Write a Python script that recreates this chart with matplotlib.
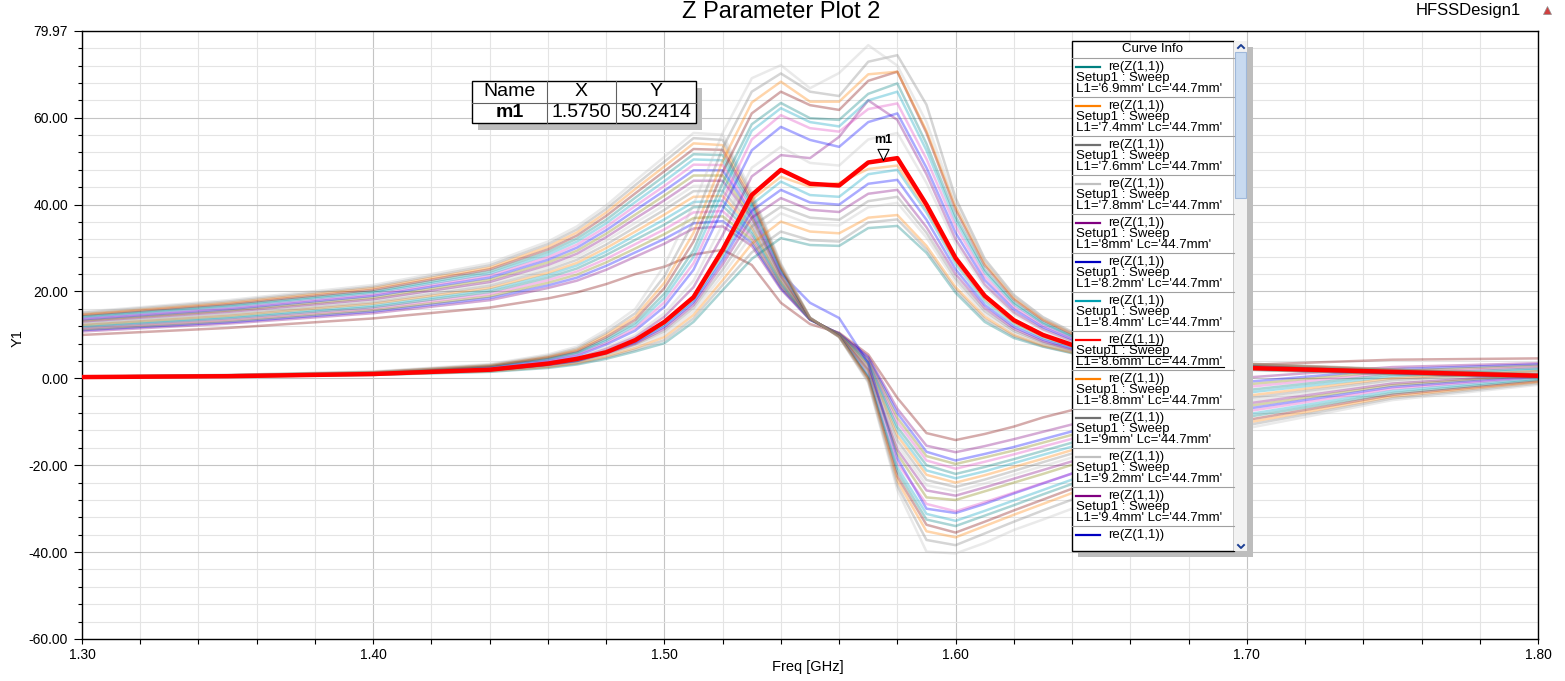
import matplotlib.pyplot as plt
import numpy as np
from matplotlib.patches import Rectangle

plt.rcParams['font.family'] = ['Liberation Sans', 'DejaVu Sans']

W, H = 1565, 681

# sweep points [GHz]
freq = [1.30, 1.35, 1.40, 1.44, 1.46, 1.47, 1.48, 1.49, 1.50, 1.51, 1.52, 1.53, 1.54, 1.55,
        1.56, 1.57, 1.58, 1.59, 1.60, 1.61, 1.62, 1.63, 1.64, 1.66, 1.70, 1.75, 1.80]

# resonance family (lowest peak first), index 9 = selected trace L1='8.6mm'
re_curves = [
    [0.2, 0.4, 0.8, 1.5, 2.4, 3.2, 4.5, 6.2, 8.1, 13.0, 20.3, 27.5, 32.3, 30.7, 30.5, 34.6, 35.1, 28.9, 19.7, 13.0, 9.3, 7.3, 5.8, 4.0, 2.0, 1.0, 0.2],
    [0.2, 0.4, 0.8, 1.6, 2.6, 3.4, 4.8, 6.6, 8.8, 13.8, 21.5, 29.0, 33.8, 31.8, 31.5, 35.9, 36.6, 29.7, 20.4, 13.6, 9.7, 7.4, 5.9, 4.1, 2.0, 1.0, 0.2],
    [0.2, 0.4, 0.9, 1.7, 2.7, 3.6, 5.1, 7.0, 9.5, 14.6, 22.6, 31.0, 36.1, 33.8, 33.4, 37.0, 37.6, 30.5, 21.0, 14.2, 10.0, 7.6, 6.0, 4.2, 2.1, 1.1, 0.3],
    [0.2, 0.4, 0.9, 1.8, 2.9, 3.8, 5.4, 7.4, 10.1, 15.4, 23.8, 33.0, 38.0, 35.5, 35.2, 39.4, 40.4, 32.4, 22.2, 14.9, 10.5, 7.9, 6.2, 4.3, 2.1, 1.1, 0.3],
    [0.3, 0.5, 1.0, 1.8, 3.0, 3.9, 5.6, 7.8, 10.8, 16.2, 25.0, 35.0, 39.5, 37.0, 36.5, 40.8, 41.8, 33.5, 23.0, 15.5, 10.9, 8.2, 6.4, 4.4, 2.2, 1.2, 0.3],
    [0.3, 0.5, 1.0, 1.9, 3.1, 4.0, 5.8, 8.0, 11.4, 16.9, 26.2, 37.0, 41.5, 38.8, 38.3, 42.5, 43.4, 34.8, 24.0, 16.2, 11.4, 8.5, 6.6, 4.5, 2.2, 1.2, 0.4],
    [0.3, 0.5, 1.0, 1.9, 3.2, 4.1, 6.0, 8.3, 11.9, 17.5, 27.2, 38.6, 43.4, 40.5, 40.0, 44.8, 45.7, 36.5, 25.1, 16.9, 11.9, 8.9, 6.9, 4.7, 2.3, 1.3, 0.4],
    [0.3, 0.5, 1.0, 2.0, 3.2, 4.1, 6.1, 8.5, 12.3, 18.0, 28.0, 40.0, 45.3, 42.2, 41.8, 47.0, 48.0, 38.2, 26.3, 17.7, 12.5, 9.3, 7.2, 4.9, 2.3, 1.3, 0.4],
    [0.3, 0.5, 1.0, 2.0, 3.3, 4.2, 6.3, 8.7, 12.7, 18.4, 28.8, 41.2, 46.4, 44.1, 45.0, 48.2, 49.0, 39.0, 27.0, 18.3, 12.9, 9.6, 7.4, 5.0, 2.4, 1.4, 0.5],
    [0.3, 0.5, 1.0, 2.0, 3.4, 4.5, 6.0, 8.8, 13.0, 18.7, 29.6, 42.2, 48.0, 44.8, 44.4, 49.7, 50.7, 40.0, 27.7, 19.0, 13.4, 10.0, 7.7, 5.2, 2.4, 1.5, 0.6],
    [0.3, 0.6, 1.1, 2.2, 3.6, 4.6, 6.8, 9.5, 14.2, 21.0, 33.0, 46.5, 51.4, 50.7, 55.6, 64.0, 59.5, 47.0, 32.0, 21.6, 15.2, 11.3, 8.6, 5.8, 2.7, 1.6, 0.6],
    [0.3, 0.6, 1.1, 2.3, 3.7, 4.8, 7.1, 10.0, 15.0, 22.5, 35.5, 48.5, 53.3, 49.6, 49.0, 55.0, 56.5, 45.0, 31.0, 21.0, 14.8, 11.0, 8.4, 5.7, 2.7, 1.6, 0.7],
    [0.3, 0.6, 1.2, 2.5, 4.0, 5.2, 7.8, 11.0, 16.5, 25.0, 39.0, 52.5, 57.9, 54.9, 53.3, 59.0, 61.0, 48.5, 33.5, 22.6, 15.9, 11.8, 9.0, 6.0, 2.9, 1.7, 0.7],
    [0.3, 0.6, 1.2, 2.6, 4.2, 5.5, 8.2, 11.6, 17.5, 26.5, 41.0, 55.0, 60.6, 57.6, 56.8, 62.0, 63.3, 50.5, 35.0, 23.5, 16.5, 12.2, 9.3, 6.2, 3.0, 1.8, 0.8],
    [0.4, 0.7, 1.3, 2.7, 4.4, 5.8, 8.6, 12.2, 18.5, 28.0, 43.0, 57.0, 62.2, 59.0, 58.0, 64.0, 66.0, 52.5, 36.3, 24.4, 17.1, 12.6, 9.6, 6.4, 3.1, 1.9, 0.8],
    [0.4, 0.7, 1.3, 2.8, 4.6, 6.0, 9.0, 12.8, 19.5, 29.5, 45.0, 58.5, 63.4, 59.9, 59.5, 65.5, 67.9, 54.0, 37.3, 25.0, 17.5, 12.9, 9.8, 6.5, 3.2, 1.9, 0.8],
    [0.4, 0.7, 1.4, 2.9, 4.8, 6.3, 9.5, 13.5, 20.8, 31.5, 47.5, 61.0, 66.0, 62.9, 61.8, 68.5, 70.6, 56.5, 38.8, 26.0, 18.2, 13.4, 10.2, 6.7, 3.3, 2.0, 0.9],
    [0.4, 0.7, 1.4, 3.0, 5.0, 6.6, 10.0, 14.2, 22.0, 33.5, 50.0, 63.5, 68.3, 63.7, 63.7, 70.0, 70.6, 57.0, 39.5, 26.5, 18.5, 13.6, 10.4, 6.8, 3.3, 2.0, 0.9],
    [0.4, 0.8, 1.5, 3.1, 5.2, 6.9, 10.5, 15.0, 23.5, 36.0, 53.0, 66.0, 70.2, 66.0, 65.0, 72.9, 74.4, 63.0, 41.5, 27.5, 19.2, 14.1, 10.7, 7.0, 3.4, 2.1, 0.9],
    [0.5, 0.8, 1.6, 3.3, 5.5, 7.3, 11.2, 16.0, 26.0, 40.0, 56.5, 69.1, 72.1, 66.8, 70.3, 76.7, 72.0, 59.0, 40.5, 27.0, 18.9, 13.9, 10.5, 6.9, 3.4, 2.1, 1.0],
]

# reactive family (smallest swing first)
im_curves = [
    [10.0, 11.6, 13.8, 16.3, 18.4, 19.8, 21.7, 24.0, 25.7, 28.5, 29.6, 26.1, 17.4, 12.5, 10.5, 5.5, -4.5, -12.6, -14.2, -12.8, -11.1, -9.0, -7.3, -3.5, 3.1, 4.3, 4.6],
    [10.8, 12.6, 15.0, 18.0, 20.8, 22.5, 25.0, 28.0, 31.0, 34.5, 35.0, 30.5, 20.5, 13.5, 10.3, 5.0, -7.0, -15.5, -17.0, -15.6, -14.0, -12.3, -10.6, -7.2, 0.2, 2.6, 3.5],
    [11.1, 12.9, 15.4, 18.5, 21.4, 23.2, 25.9, 29.0, 32.1, 35.7, 36.2, 31.2, 20.8, 13.5, 10.3, 4.7, -8.0, -16.9, -18.9, -17.4, -15.8, -14.0, -12.2, -8.6, -0.8, 2.1, 3.2],
    [11.3, 13.2, 15.7, 18.9, 22.0, 23.9, 26.7, 29.9, 33.2, 36.9, 37.3, 31.9, 21.2, 13.6, 10.2, 4.3, -9.1, -17.9, -19.7, -18.2, -16.6, -14.8, -13.0, -9.4, -1.4, 1.7, 2.9],
    [11.6, 13.5, 16.1, 19.4, 22.6, 24.6, 27.5, 30.9, 34.3, 38.2, 38.5, 32.6, 21.5, 13.6, 10.2, 4.0, -10.1, -18.9, -20.8, -19.2, -17.5, -15.7, -13.9, -10.3, -2.0, 1.3, 2.6],
    [11.8, 13.8, 16.4, 19.9, 23.2, 25.3, 28.4, 31.9, 35.4, 39.4, 39.7, 33.3, 21.8, 13.6, 10.1, 3.7, -11.2, -20.0, -22.0, -20.4, -18.6, -16.7, -14.8, -11.0, -2.7, 0.9, 2.3],
    [12.1, 14.1, 16.8, 20.4, 23.8, 26.0, 29.2, 32.9, 36.6, 40.6, 40.9, 34.0, 22.2, 13.6, 10.1, 3.3, -12.2, -21.2, -23.0, -21.4, -19.5, -17.6, -15.7, -11.9, -3.3, 0.4, 2.0],
    [12.3, 14.4, 17.2, 20.8, 24.3, 26.6, 30.0, 33.8, 37.7, 41.8, 42.0, 34.7, 22.5, 13.7, 10.0, 3.0, -13.2, -22.2, -24.0, -22.3, -20.4, -18.5, -16.5, -12.6, -4.0, 0.0, 1.7],
    [12.6, 14.7, 17.5, 21.3, 24.9, 27.3, 30.8, 34.8, 38.8, 43.1, 43.2, 35.4, 22.8, 13.7, 10.0, 2.7, -14.3, -23.4, -25.0, -23.3, -21.3, -19.3, -17.3, -13.4, -4.6, -0.4, 1.5],
    [12.8, 15.0, 17.9, 21.8, 25.5, 28.0, 31.7, 35.8, 39.9, 44.3, 44.4, 36.1, 23.2, 13.7, 9.9, 2.3, -15.3, -24.6, -26.0, -24.2, -22.2, -20.2, -18.2, -14.2, -5.2, -0.8, 1.2],
    [13.1, 15.3, 18.2, 22.2, 26.1, 28.7, 32.5, 36.8, 41.0, 45.5, 45.5, 36.8, 23.5, 13.7, 9.9, 2.0, -16.4, -25.8, -27.0, -25.1, -23.1, -21.1, -19.1, -15.0, -5.8, -1.2, 0.9],
    [13.3, 15.6, 18.6, 22.7, 26.7, 29.4, 33.3, 37.7, 42.1, 46.7, 46.7, 37.4, 23.8, 13.8, 9.9, 1.7, -17.4, -27.4, -28.0, -26.0, -24.0, -22.0, -19.9, -15.9, -6.4, -1.6, 0.7],
    [13.6, 15.9, 19.0, 23.2, 27.3, 30.1, 34.1, 38.7, 43.2, 47.9, 47.9, 38.1, 24.2, 17.4, 13.9, 3.5, -18.4, -30.0, -31.0, -28.9, -26.5, -24.2, -21.9, -17.5, -7.0, -2.0, 0.4],
    [13.8, 16.2, 19.3, 23.7, 27.9, 30.8, 34.9, 39.7, 44.3, 49.2, 49.1, 38.8, 24.5, 13.8, 9.8, 1.0, -19.5, -28.9, -30.6, -28.5, -26.3, -24.1, -21.9, -17.7, -7.6, -2.4, 0.2],
    [14.1, 16.5, 19.7, 24.1, 28.5, 31.5, 35.7, 40.6, 45.4, 50.4, 50.2, 39.5, 24.8, 13.8, 9.7, 0.7, -20.5, -31.2, -32.8, -30.5, -28.1, -25.7, -23.3, -18.9, -8.3, -2.9, -0.1],
    [14.3, 16.8, 20.0, 24.6, 29.1, 32.2, 36.5, 41.6, 46.6, 51.6, 51.4, 40.2, 25.2, 13.9, 9.7, 0.3, -21.5, -32.5, -34.0, -31.6, -29.2, -26.7, -24.3, -19.8, -8.9, -3.4, -0.4],
    [14.6, 17.1, 20.4, 25.1, 29.7, 32.9, 37.4, 42.6, 47.7, 52.8, 52.6, 40.9, 25.5, 13.9, 9.6, 0.0, -22.6, -33.7, -35.5, -33.0, -30.4, -27.9, -25.4, -20.8, -9.6, -3.8, -0.7],
    [14.8, 17.4, 20.8, 25.5, 30.3, 33.6, 38.2, 43.6, 48.8, 54.1, 53.7, 41.6, 25.8, 13.9, 9.6, -0.3, -23.6, -35.2, -36.6, -34.0, -31.4, -28.9, -26.4, -21.7, -10.2, -4.2, -0.9],
    [15.1, 17.7, 21.1, 26.0, 30.9, 34.3, 39.0, 44.5, 49.9, 55.3, 54.9, 42.3, 26.2, 14.0, 9.5, -0.7, -24.7, -37.2, -38.4, -35.7, -33.0, -30.4, -27.9, -23.0, -10.8, -4.6, -1.2],
    [15.3, 18.0, 21.5, 26.5, 31.5, 35.0, 39.8, 45.5, 51.0, 56.5, 56.1, 43.0, 26.5, 14.0, 9.5, -1.0, -25.7, -39.9, -40.3, -37.9, -34.9, -32.5, -30.0, -25.0, -11.5, -5.0, -1.5],
]

re_colors = ['#008080', '#808080', '#FF8000', '#C0C0C0', '#808080', '#800080', '#0000FF',
             '#00A0C0', '#FF8000', '#FF0000', '#800080', '#C0C0C0', '#0000FF', '#E040C0',
             '#00A0C0', '#008080', '#800000', '#FF8000', '#808080', '#C0C0C0']
im_colors = ['#800000', '#800080', '#0000FF', '#808000', '#E040C0', '#008080', '#00A0C0',
             '#FF8000', '#808080', '#C0C0C0', '#800080', '#808000', '#0000FF', '#E040C0',
             '#00A0C0', '#008080', '#800000', '#FF8000', '#808080', '#C0C0C0']
selected = 9

legend_l1 = ['6.9mm', '7.4mm', '7.6mm', '7.8mm', '8mm', '8.2mm', '8.4mm',
             '8.6mm', '8.8mm', '9mm', '9.2mm', '9.4mm']
legend_colors = ['#008080', '#FF8000', '#707070', '#C0C0C0', '#800080', '#0000C0', '#00A0B0',
                 '#FF0000', '#FF8000', '#707070', '#C0C0C0', '#800080', '#0000C0']

marker_name = 'm1'
marker_x = 1.5750
marker_y = 50.2414

fig = plt.figure(figsize=(W / 100, H / 100), dpi=100)
ax = fig.add_axes([82 / W, 1 - 639 / H, 1456 / W, 608 / H])

for ys, c in zip(im_curves, im_colors):
    ax.plot(freq, ys, color=c, lw=1.8, alpha=0.33)
for i, (ys, c) in enumerate(zip(re_curves, re_colors)):
    if i == selected:
        continue
    ax.plot(freq, ys, color=c, lw=1.8, alpha=0.33)
ax.plot(freq, re_curves[selected], color='#FF0000', lw=3.2, zorder=5)

# marker m1
tri = [(0, 0), (-0.5, 1), (0.5, 1), (0, 0)]
ax.plot([marker_x], [marker_y], marker=tri, ms=16, mfc='white', mec='black',
        mew=0.8, ls='none', zorder=6)
ax.annotate(marker_name, (marker_x, marker_y), xytext=(0, 14.5), textcoords='offset points',
            ha='center', va='center', fontsize=9, fontweight='bold', zorder=7)

ax.set_xlim(1.30, 1.80)
ax.set_ylim(-60, 79.97)
xmaj = [1.30, 1.40, 1.50, 1.60, 1.70, 1.80]
ax.set_xticks(xmaj)
ax.set_xticklabels(['%.2f' % v for v in xmaj])
ax.set_xticks(np.arange(1.30, 1.8001, 0.02), minor=True)
ymaj = [-60, -40, -20, 0, 20, 40, 60, 79.97]
ax.set_yticks(ymaj)
ax.set_yticklabels(['%.2f' % v for v in ymaj])
ax.set_yticks(np.arange(-56, 79, 4), minor=True)

ax.set_axisbelow(True)
ax.grid(which='major', color='#C4C4C4', lw=0.8)
ax.grid(which='minor', color='#E4E4E4', lw=0.8)
ax.tick_params(axis='y', which='major', length=6, width=0.8, labelsize=10, pad=4)
ax.tick_params(axis='y', which='minor', length=3, width=0.8)
ax.tick_params(axis='x', which='both', length=3.5, width=0.8, labelsize=10, pad=3)
for s in ax.spines.values():
    s.set_color('black')
    s.set_linewidth(1.0)

# overlay in pixel coordinates for the annotations around the plot
ov = fig.add_axes([0, 0, 1, 1])
ov.set_xlim(0, W)
ov.set_ylim(H, 0)
ov.axis('off')
ov.patch.set_visible(False)

ov.text(781, 12, 'Z Parameter Plot 2', ha='center', va='center', fontsize=17)
ov.text(1468, 11, 'HFSSDesign1', ha='center', va='center', fontsize=12)
ov.plot([1547], [10], marker='^', ms=6, color='#D04040', mec='#909090', mew=0.5)
ov.text(808, 667, 'Freq [GHz]', ha='center', va='center', fontsize=10.5)
ov.text(18, 338, 'Y1', ha='center', va='center', fontsize=10.5, rotation=90)

# marker table
ov.add_patch(Rectangle((478, 88), 224, 42, fc='#BDBDBD', ec='none'))
ov.add_patch(Rectangle((472, 81), 224, 41.5, fc='white', ec='black', lw=1))
ov.plot([472, 696], [102.5, 102.5], color='#606060', lw=0.8)
ov.plot([547, 547], [81, 122.5], color='#606060', lw=0.8)
ov.plot([616, 616], [81, 122.5], color='#606060', lw=0.8)
ov.text(509.5, 92, 'Name', ha='center', va='center', fontsize=14)
ov.text(581.5, 92, 'X', ha='center', va='center', fontsize=14)
ov.text(656, 92, 'Y', ha='center', va='center', fontsize=14)
ov.text(509.5, 112.5, marker_name, ha='center', va='center', fontsize=14, fontweight='bold')
ov.text(581.5, 112.5, '%.4f' % marker_x, ha='center', va='center', fontsize=14)
ov.text(656, 112.5, '%.4f' % marker_y, ha='center', va='center', fontsize=14)

# curve info box
ov.add_patch(Rectangle((1078, 47), 175, 510, fc='#BDBDBD', ec='none'))
ov.add_patch(Rectangle((1072, 41), 162, 510, fc='white', ec='black', lw=1))
ov.add_patch(Rectangle((1234, 41), 13, 510, fc='#F2F2F2', ec='none'))
ov.add_patch(Rectangle((1235, 52), 11, 146, fc='#C8DAF0', ec='#9FB8DA', lw=0.8))
ov.plot([1238, 1241, 1244], [48, 45, 48], color='#1C3F94', lw=1.4)
ov.plot([1238, 1241, 1244], [545, 548, 545], color='#1C3F94', lw=1.4)
ov.text(1153, 49.5, 'Curve Info', ha='center', va='center', fontsize=9.5)
ov.plot([1072, 1234], [58.3, 58.3], color='#A0A0A0', lw=0.8)

fs = 9.5
for i, col in enumerate(legend_colors):
    top = 58.3 + 39 * i
    ov.plot([1076, 1100], [top + 8.3, top + 8.3], color=col, lw=1.6)
    ov.text(1108, top + 8.3, 're(Z(1,1))', ha='left', va='center', fontsize=fs)
    if i < len(legend_l1):
        ov.text(1076, top + 19.8, 'Setup1 : Sweep', ha='left', va='center', fontsize=fs)
        ov.text(1076, top + 30.5, "L1='%s' Lc='44.7mm'" % legend_l1[i],
                ha='left', va='center', fontsize=fs)
        ov.plot([1072, 1234], [top + 39, top + 39], color='#A0A0A0', lw=0.8)
    if i == selected - 2:
        ov.plot([1108, 1161], [top + 13.7, top + 13.7], color='black', lw=0.8)
        ov.plot([1076, 1171], [top + 24.7, top + 24.7], color='black', lw=0.8)
        ov.plot([1076, 1224], [top + 36, top + 36], color='black', lw=0.8)

fig.savefig('out.png', dpi=100)
